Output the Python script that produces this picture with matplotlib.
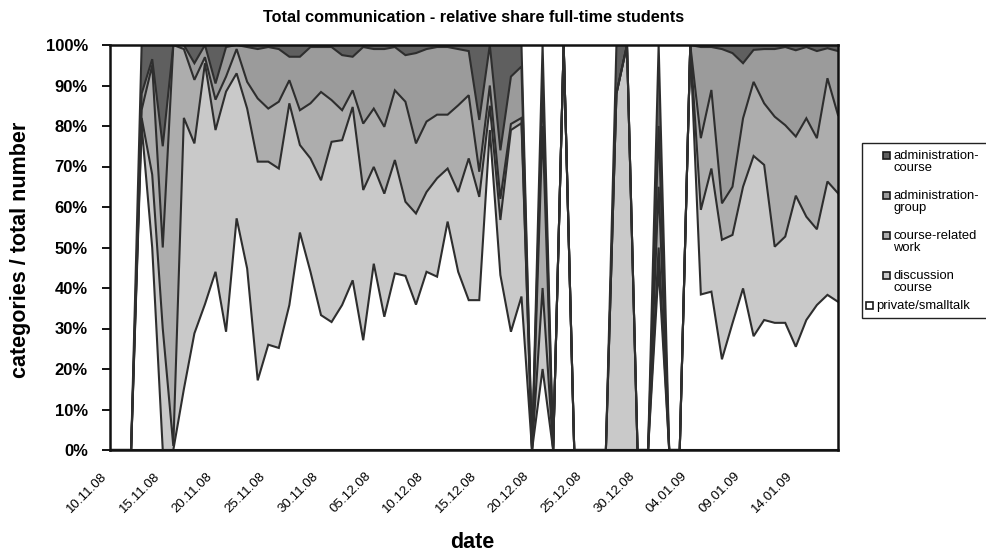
import numpy as np
import matplotlib
matplotlib.use("Agg")
import matplotlib.pyplot as plt
import matplotlib.transforms as mtransforms
from matplotlib.patches import Rectangle

plt.rcParams['font.family'] = ['Liberation Sans', 'DejaVu Sans']

# ---- data (relative shares in %, one value per day 10.11.08 .. 18.01.09) ----
days = ["10.11.08", "11.11.08", "12.11.08", "13.11.08", "14.11.08", "15.11.08", "16.11.08", "17.11.08",
        "18.11.08", "19.11.08", "20.11.08", "21.11.08", "22.11.08", "23.11.08", "24.11.08", "25.11.08",
        "26.11.08", "27.11.08", "28.11.08", "29.11.08", "30.11.08", "01.12.08", "02.12.08", "03.12.08",
        "04.12.08", "05.12.08", "06.12.08", "07.12.08", "08.12.08", "09.12.08", "10.12.08", "11.12.08",
        "12.12.08", "13.12.08", "14.12.08", "15.12.08", "16.12.08", "17.12.08", "18.12.08", "19.12.08",
        "20.12.08", "21.12.08", "22.12.08", "23.12.08", "24.12.08", "25.12.08", "26.12.08", "27.12.08",
        "28.12.08", "29.12.08", "30.12.08", "31.12.08", "01.01.09", "02.01.09", "03.01.09", "04.01.09",
        "05.01.09", "06.01.09", "07.01.09", "08.01.09", "09.01.09", "10.01.09", "11.01.09", "12.01.09",
        "13.01.09", "14.01.09", "15.01.09", "16.01.09", "17.01.09", "18.01.09"]

private = [0, 0, 0, 80, 50, 0, 0, 15, 28.8, 36, 44, 29.2, 57.2, 44.8, 17.2, 26, 25.2, 35.8, 53.7, 44,
           33.3, 31.6, 35.8, 41.9, 27.1, 46, 32.9, 43.6, 43, 35.9, 44, 42.8, 56.4, 44, 37, 37, 79, 43.2,
           29.2, 37.9, 0, 20, 0, 100, 0, 0, 0, 0, 0, 0, 0, 0, 45, 0, 0, 100, 38.4, 39.1, 22.4, 31.3,
           39.9, 28.1, 32.1, 31.4, 31.4, 25.5, 32.1, 35.8, 38.3, 36.6]
discussion = [0, 0, 0, 2, 18, 30, 1, 67, 46.9, 59.5, 35, 59.3, 35.8, 39.5, 54, 45.2, 44.3, 49.8, 21.6, 28,
              33.3, 44.5, 40.7, 42.8, 37.1, 23.9, 30.4, 28, 18.3, 22.5, 19.7, 24.3, 13.1, 19.7, 35, 25.5, 6,
              13.6, 49.8, 42.8, 0, 20, 0, 0, 0, 0, 0, 0, 88, 100, 0, 0, 5, 0, 0, 0, 20.9, 30.4, 29.5, 21.8,
              25.1, 44.5, 38.3, 18.8, 21.3, 37.3, 25.5, 18.7, 28, 26.8]
course_work = [0, 0, 0, 2, 27, 20, 99, 17, 15.7, 1.5, 7.5, 3.7, 6, 6.6, 15.6, 13.1, 16.5, 5.7, 8.6, 13.6,
               21.8, 10.3, 7.4, 4.1, 16.4, 14.4, 16.5, 17.2, 24.7, 17.3, 17.4, 15.7, 13.3, 21.4, 15.6, 6.2, 5,
               5.2, 1.5, 1.3, 0, 40, 0, 0, 0, 0, 0, 0, 0, 0, 0, 0, 15, 0, 0, 0, 17.7, 19.4, 9, 11.9,
               16.9, 18.3, 15.2, 32.1, 27.5, 14.6, 24.3, 22.5, 25.5, 19.3]
admin_group = [0, 0, 0, 4, 1.5, 25, 0, 1, 4.1, 3, 4, 7.3, 1, 8.6, 12.2, 15.2, 13, 5.8, 13.2, 13.9,
               11.1, 13.1, 13.6, 8.3, 18.9, 14.7, 19.2, 10.7, 11.5, 22.3, 17.9, 16.7, 16.7, 13.9, 10.9, 12.8, 10,
               12, 11.7, 12.7, 0, 10, 0, 0, 0, 0, 0, 0, 0, 0, 0, 0, 15, 0, 0, 0, 22.5, 10.6, 38.1, 33,
               13.6, 7.9, 13.4, 16.7, 19.3, 21.3, 17.6, 21.5, 7.4, 15.8]
admin_course = [0, 0, 0, 12, 3.5, 25, 0, 0, 4.5, 0, 9.5, 0.5, 0, 0.5, 1, 0.5, 1, 2.9, 2.9, 0.5,
                0.5, 0.5, 2.5, 2.9, 0.5, 1, 1, 0.5, 2.5, 2, 1, 0.5, 0.5, 1, 1.5, 18.5, 0,
                26, 7.8, 5.3, 0, 10, 0, 0, 0, 0, 0, 0, 12, 0, 0, 0, 20, 0, 0, 0, 0.5, 0.5, 1, 2,
                4.5, 1.2, 1, 1, 0.5, 1.3, 0.5, 1.5, 0.8, 1.5]

series_names = ["private/smalltalk", "discussion course", "course-related work",
                "administration-group", "administration-course"]
legend_labels = ["administration-\ncourse", "administration-\ngroup", "course-related\nwork",
                 "discussion\ncourse", "private/smalltalk"]
colors = ["#ffffff", "#c9c9c9", "#adadad", "#9b9b9b", "#5f5f5f"]
tick_labels = days[::5]

# ---- build 100 % stack ----
vals = np.array([private, discussion, course_work, admin_group, admin_course], dtype=float)
tot = vals.sum(axis=0)
share = np.where(tot > 0, vals / np.where(tot > 0, tot, 1) * 100.0, 0.0)
cum = np.vstack([np.zeros(share.shape[1]), np.cumsum(share, axis=0)])
x = np.arange(len(days))

W, H = 986, 553
fig = plt.figure(figsize=(W / 100, H / 100), dpi=100)
ax = fig.add_axes([110 / W, 1 - 450 / H, (838 - 110) / W, (450 - 45) / H])

for k in range(5):
    ax.fill_between(x, cum[k], cum[k + 1], facecolor=colors[k], edgecolor='none', lw=0)
for k in range(6):
    ax.plot(x, cum[k], color="#2e2e2e", lw=1.5, solid_joinstyle='miter')

ax.set_xlim(0, len(days) - 1)
ax.set_ylim(0, 100)
ax.set_yticks(np.arange(0, 101, 10))
ax.set_yticklabels([f"{v}%" for v in range(0, 101, 10)], fontsize=12, fontweight='bold')
ax.set_xticks(x[::5])
ax.set_xticklabels(tick_labels, rotation=45, ha='right', va='top', rotation_mode='anchor',
                   fontsize=9.6)
ax.tick_params(axis='y', direction='out', length=6, width=1.3, pad=10)
ax.tick_params(axis='x', length=0, pad=0)
off = mtransforms.ScaledTranslation(-9 / 100, -20 / 100, fig.dpi_scale_trans)
for lab in ax.get_xticklabels():
    lab.set_transform(lab.get_transform() + off)
for s in ax.spines.values():
    s.set_linewidth(1.8)
    s.set_color('#111111')

fig.text(474 / W, 1 - 17 / H, "Total communication - relative share full-time students",
         ha='center', va='center', fontsize=11.7, fontweight='bold')
fig.text(21 / W, 1 - 250 / H, "categories / total number", rotation=90,
         ha='center', va='center', fontsize=15.5, fontweight='bold')
fig.text(472 / W, 1 - 543 / H, "date", ha='center', va='center',
         fontsize=15.5, fontweight='bold')

# ---- legend (box runs past the right edge like the original) ----
fig.patches.append(Rectangle((862 / W, 1 - 318 / H), 140 / W, (318 - 143) / H,
                             transform=fig.transFigure, facecolor='white',
                             edgecolor='#222222', lw=1.0, clip_on=False))
leg_rows = [155, 195, 235, 275, 305]
leg_sq_x = [883, 883, 883, 883, 866]
leg_colors = [colors[4], colors[3], colors[2], colors[1], colors[0]]
for lab, yc, sx, col in zip(legend_labels, leg_rows, leg_sq_x, leg_colors):
    fig.patches.append(Rectangle((sx / W, 1 - (yc + 3.5) / H), 7 / W, 7 / H,
                                 transform=fig.transFigure, facecolor=col,
                                 edgecolor='#1a1a1a', lw=1.2))
    fig.text((sx + 10) / W, 1 - (yc - 5) / H, lab, ha='left', va='top',
             fontsize=9.4, linespacing=0.95)

fig.savefig("out.png", dpi=100)
